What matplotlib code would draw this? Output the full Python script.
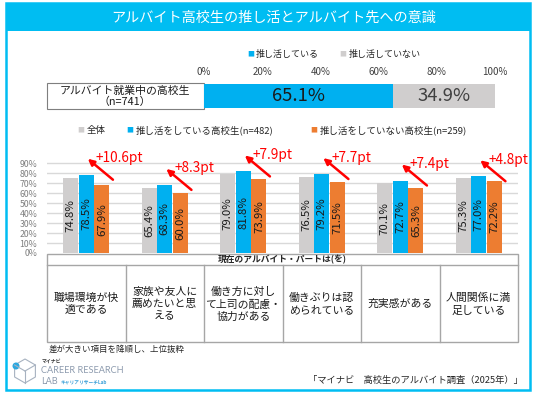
import matplotlib
matplotlib.use("Agg")
import matplotlib.pyplot as plt
from matplotlib.patches import Rectangle, Polygon, Circle
import numpy as np

plt.rcParams['font.family'] = ['Noto Sans CJK JP', 'DejaVu Sans']

# ---- data ----
title = 'アルバイト高校生の推し活とアルバイト先への意識'
top_label = 'アルバイト就業中の高校生\n（n=741）'
top_share = [65.1, 34.9]
top_names = ['推し活している', '推し活していない']

series_names = ['全体', '推し活をしている高校生(n=482)', '推し活をしていない高校生(n=259)']
items = ['職場環境が快\n適である', '家族や友人に\n薦めたいと思\nえる', '働き方に対し\nて上司の配慮・\n協力がある',
         '働きぶりは認\nめられている', '充実感がある', '人間関係に満\n足している']
total = [74.8, 65.4, 79.0, 76.5, 70.1, 75.3]
oshi = [78.5, 68.3, 81.8, 79.2, 72.7, 77.0]
non_oshi = [67.9, 60.0, 73.9, 71.5, 65.3, 72.2]
diff_labels = ['+10.6pt', '+8.3pt', '+7.9pt', '+7.7pt', '+7.4pt', '+4.8pt']
header = '現在のアルバイト・パートは(を)'
note = '差が大きい項目を降順し、上位抜粋'
source = '「マイナビ\u3000高校生のアルバイト調査（2025年）」'

CYAN = '#00BDF2'
BLUE = '#00B0F0'
GRAY = '#D0CECE'
ORANGE = '#ED7D31'
RED = '#FF0000'

W, H = 536, 398
fig = plt.figure(figsize=(W / 100, H / 100), dpi=100)
fig.patch.set_facecolor('white')


def px_axes(x0, y0, x1, y1):
    return fig.add_axes([x0 / W, 1 - y1 / H, (x1 - x0) / W, (y1 - y0) / H])


# overlay in pixel coordinates
ov = px_axes(0, 0, W, H)
ov.set_xlim(0, W)
ov.set_ylim(H, 0)
ov.axis('off')

# frame and title band
ov.add_patch(Rectangle((6, 3), 524, 387, fill=False, ec=CYAN, lw=1.8))
ov.add_patch(Rectangle((6, 3), 524, 28, fc=CYAN, ec=CYAN, lw=0))
ov.text(274, 18, title, color='white', fontsize=10.2, ha='center', va='center')

# top legend
ov.text(251, 54, '■', color=BLUE, fontsize=5, ha='center', va='center')
ov.text(256, 54, top_names[0], fontsize=6.5, ha='left', va='center', color='#262626')
ov.text(343, 54, '■', color=GRAY, fontsize=5, ha='center', va='center')
ov.text(349, 54, top_names[1], fontsize=6.5, ha='left', va='center', color='#262626')

# label box for stacked bar
ov.add_patch(Rectangle((47, 83), 157, 26, fc='white', ec='#7F7F7F', lw=0.8))
ov.text(125, 96.5, top_label, fontsize=7.8, ha='center', va='center', linespacing=1.05, color='#1a1a1a')

# stacked bar
axt = px_axes(204, 84, 495, 108)
axt.barh([0], [top_share[0]], left=0, color=BLUE, height=1.0)
axt.barh([0], [top_share[1]], left=top_share[0], color=GRAY, height=1.0)
axt.text(top_share[0] / 2, 0, f'{top_share[0]:.1f}%', fontsize=13.3, ha='center', va='center', color='#1a1a1a')
axt.text(top_share[0] + top_share[1] / 2, 0, f'{top_share[1]:.1f}%', fontsize=13.3, ha='center', va='center', color='#404040')
axt.set_xlim(0, 100)
axt.set_ylim(-0.5, 0.5)
axt.xaxis.tick_top()
axt.set_xticks(np.arange(0, 101, 20))
axt.set_xticklabels([f'{v}%' for v in range(0, 101, 20)], fontsize=7, color='#404040')
axt.tick_params(axis='x', length=0, pad=5)
axt.set_yticks([])
for s in axt.spines.values():
    s.set_visible(False)

# second legend
leg_x = [(81, 87), (130, 136), (314, 320)]
for (sx, tx), name, c in zip(leg_x, series_names, [GRAY, BLUE, ORANGE]):
    ov.text(sx, 130, '■', color=c, fontsize=5, ha='center', va='center')
    ov.text(tx, 130, name, fontsize=6.8, ha='left', va='center', color='#262626')

# grouped bar chart
ax = px_axes(47, 153.3, 518, 253)
x = np.arange(len(items))
bw = 0.19
for off, vals, c in [(-0.2, total, GRAY), (0.0, oshi, BLUE), (0.2, non_oshi, ORANGE)]:
    ax.bar(x + off, vals, width=bw, color=c, zorder=3)
    for xi, v in zip(x + off, vals):
        ax.text(xi, v / 2, f'{v:.1f}%', rotation=90, ha='center', va='center',
                fontsize=8.2, color='#1a1a1a', zorder=4)
ax.set_xlim(-0.5, len(items) - 0.5)
ax.set_ylim(0, 100)
ax.set_yticks(np.arange(0, 91, 10))
ax.set_yticklabels([f'{v}%' for v in range(0, 91, 10)], fontsize=6.3, color='#7F7F7F')
ax.tick_params(axis='y', length=0, pad=7)
ax.set_xticks([])
for yv in range(10, 91, 10):
    ax.axhline(yv, color='#D9D9D9', lw=1, zorder=1)
for s in ax.spines.values():
    s.set_visible(False)

# difference arrows
for xi, b, lab in zip(x, oshi, diff_labels):
    hx, hy = xi + 0.02, b + 16
    ax.annotate('', xy=(hx, hy), xytext=(hx + 0.32, hy - 21),
                arrowprops=dict(arrowstyle='-|>', color=RED, lw=1.8, mutation_scale=9,
                                shrinkA=0, shrinkB=0), annotation_clip=False, zorder=5)
    ax.text(hx + 0.1, hy + 0.5, lab, color=RED, fontsize=9.8, ha='left', va='center',
            clip_on=False, zorder=5)

# table below chart
tx0, tx1, ty0, ty1, tyh = 47, 518, 254, 341.5, 265
cw = (tx1 - tx0) / len(items)
LC = '#A6A6A6'
ov.add_patch(Rectangle((tx0, ty0), tx1 - tx0, ty1 - ty0, fill=False, ec=LC, lw=1))
ov.plot([tx0, tx1], [tyh, tyh], color=LC, lw=1)
for i in range(1, len(items)):
    ov.plot([tx0 + i * cw] * 2, [tyh, ty1], color=LC, lw=1)
ov.text((tx0 + tx1) / 2, (ty0 + tyh) / 2 + 0.5, header, fontsize=6.3, fontweight='bold',
        ha='center', va='center', color='#262626')
for i, it in enumerate(items):
    ov.text(tx0 + (i + 0.5) * cw, (tyh + ty1) / 2 + 1, it, fontsize=7.8, ha='center',
            va='center', linespacing=1.25, color='#1a1a1a')

ov.text(49, 349, note, fontsize=6.1, ha='left', va='center', color='#262626')
ov.text(523, 380, source, fontsize=6.7, ha='right', va='center', color='#262626')

# logo
hexc = (25, 371)
r = 12
pts = [(hexc[0] + r * np.cos(np.radians(a)), hexc[1] + r * np.sin(np.radians(a)))
       for a in range(30, 390, 60)]
ov.add_patch(Polygon(pts, closed=True, fill=False, ec='#A7B2C0', lw=0.8))
ov.plot([hexc[0], hexc[0]], [hexc[1], hexc[1] + r], color='#A7B2C0', lw=0.8)
ov.plot([hexc[0], pts[5][0]], [hexc[1], pts[5][1]], color='#A7B2C0', lw=0.8)
ov.plot([hexc[0], pts[3][0]], [hexc[1], pts[3][1]], color='#A7B2C0', lw=0.8)
ov.add_patch(Circle((16, 366), 3.5, fc='#2BA8E0', ec='none'))
ov.text(42, 361, 'マイナビ', fontsize=3.5, fontweight='bold', ha='left', va='center', color='#333333')
ov.text(41, 370.5, 'CAREER RESEARCH', fontsize=6.6, ha='left', va='center', color='#8D9BAE',
        family=['Lato', 'DejaVu Sans'])
ov.text(41, 381, 'LAB', fontsize=6.6, ha='left', va='center', color='#8D9BAE',
        family=['Lato', 'DejaVu Sans'])
ov.text(61, 381.5, 'キャリアリサーチLab', fontsize=3.4, fontweight='bold', ha='left', va='center',
        color='#3AA0D8')

fig.savefig('out.png', dpi=100)
